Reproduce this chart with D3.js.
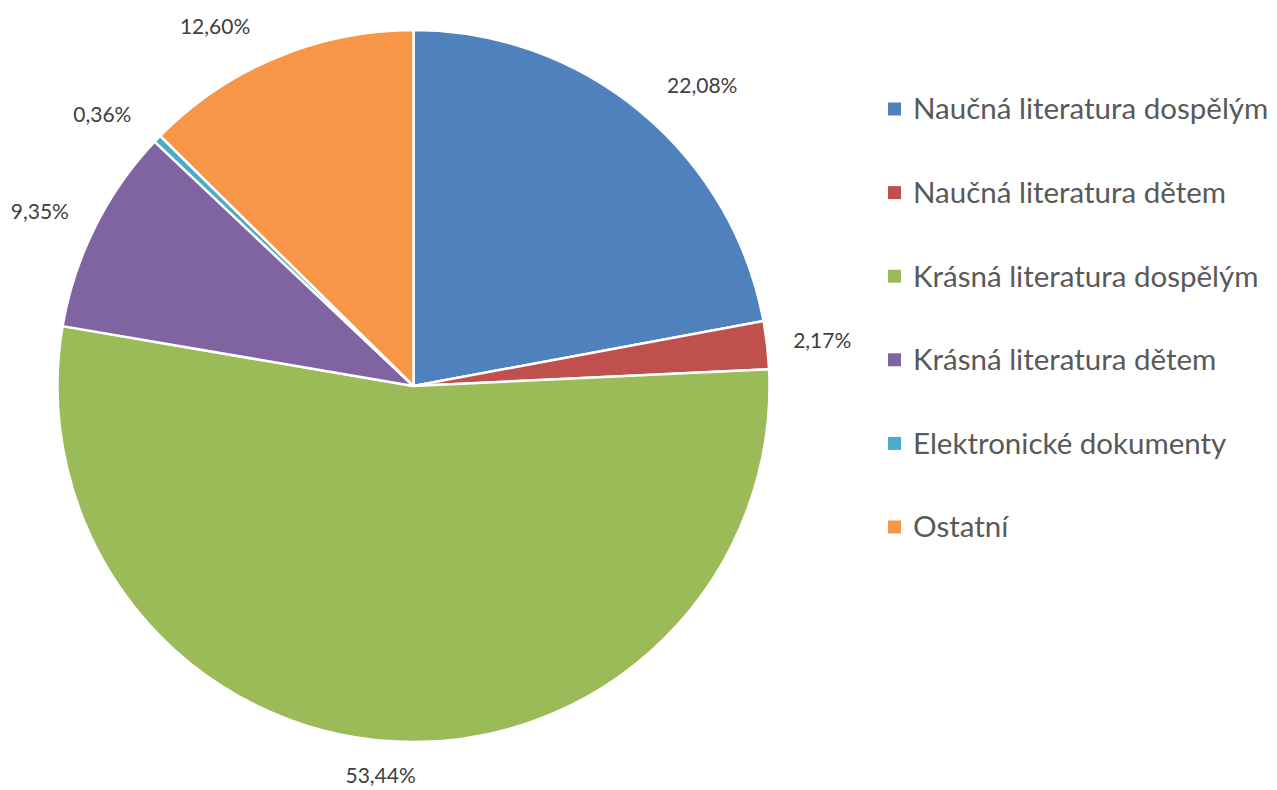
<!DOCTYPE html>
<html>
<head>
<meta charset="utf-8">
<script src="https://cdn.jsdelivr.net/npm/d3@7"></script>
<style>
  body { margin: 0; background: #fff; }
  svg { display: block; }
</style>
</head>
<body>
<svg id="chart" width="1277" height="790"></svg>
<script>
var categories = ["Naučná literatura dospělým", "Naučná literatura dětem", "Krásná literatura dospělým",
                  "Krásná literatura dětem", "Elektronické dokumenty", "Ostatní"];
var shares = [22.08, 2.17, 53.44, 9.35, 0.36, 12.60];
var colors = ["#4F81BD", "#C0504D", "#9BBB59", "#8064A2", "#4BACC6", "#F79646"];

var data = categories.map(function (c, i) { return { name: c, value: shares[i], color: colors[i] }; });

var svg = d3.select("#chart"),
    cx = 413.5, cy = 386, radius = 356;

var fontFam = "Lato, 'Noto Sans', sans-serif";

var pie = d3.pie().sort(null).value(function (d) { return d.value; });
var arc = d3.arc().innerRadius(0).outerRadius(radius);
var arcs = pie(data);

var g = svg.append("g").attr("transform", "translate(" + cx + "," + cy + ")");

g.selectAll("path")
    .data(arcs)
    .enter().append("path")
    .attr("d", arc)
    .attr("fill", function (d) { return d.data.color; })
    .attr("stroke", "#fff")
    .attr("stroke-width", 2.5)
    .attr("stroke-linejoin", "round");

var fmt = function (v) { return v.toFixed(2).replace(".", ",") + "%"; };

// labels at the outside end, pushed sideways like excel does
var labels = g.selectAll("text.lbl")
    .data(arcs)
    .enter().append("text")
    .attr("class", "lbl")
    .attr("font-family", fontFam)
    .attr("font-size", 21)
    .attr("fill", "#404040")
    .attr("text-anchor", "middle")
    .attr("dy", "0.35em")
    .text(function (d) { return fmt(d.data.value); });

labels.each(function (d) {
    var bb = this.getBBox();
    var a = (d.startAngle + d.endAngle) / 2;
    var s = Math.sin(a), c = Math.cos(a);
    var kx = Math.max(-1, Math.min(1, s * 3));
    var x = s * radius + kx * (bb.width / 2 + 26);
    var y = -c * radius - c * 34;
    d3.select(this).attr("x", x).attr("y", y);
});

// legend
var legend = svg.append("g")
    .selectAll("g")
    .data(data)
    .enter().append("g")
    .attr("transform", function (d, i) { return "translate(888," + (109 + i * 83.6) + ")"; });

legend.append("rect")
    .attr("x", 0)
    .attr("y", -6.5)
    .attr("width", 13)
    .attr("height", 13)
    .attr("fill", function (d) { return d.color; });

legend.append("text")
    .attr("x", 25)
    .attr("dy", "0.35em")
    .attr("font-family", fontFam)
    .attr("font-size", 29.5)
    .attr("fill", "#595959")
    .text(function (d) { return d.name; });
</script>
</body>
</html>
